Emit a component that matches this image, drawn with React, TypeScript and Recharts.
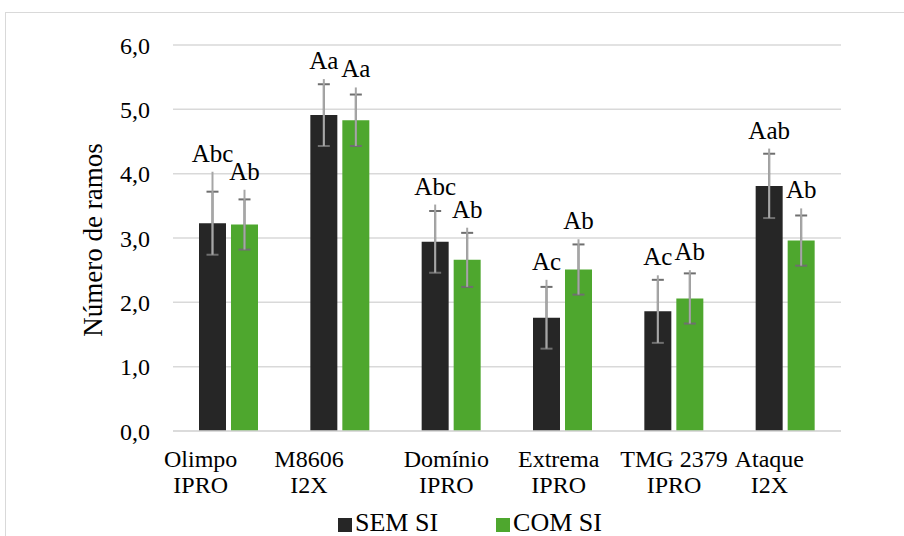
import { BarChart, Bar, XAxis, YAxis, CartesianGrid, ErrorBar, LabelList, Legend } from 'recharts'

const cultivars = ['Olimpo', 'M8606', 'Domínio', 'Extrema', 'TMG 2379', 'Ataque']
const technology = ['IPRO', 'I2X', 'IPRO', 'IPRO', 'IPRO', 'I2X']

const semValues = [3.23, 4.91, 2.94, 1.76, 1.86, 3.81]
const comValues = [3.21, 4.83, 2.66, 2.51, 2.06, 2.96]
const semError = [0.49, 0.48, 0.48, 0.48, 0.49, 0.5]
const comError = [0.39, 0.4, 0.42, 0.39, 0.39, 0.39]
// top of the whisker line (it runs past the cap in the original)
const semTop = [4.03, 5.47, 3.52, 2.35, 2.42, 4.39]
const comTop = [3.75, 5.34, 3.16, 2.98, 2.5, 3.46]
const semLetters = ['Abc', 'Aa', 'Abc', 'Ac', 'Ac', 'Aab']
const comLetters = ['Ab', 'Aa', 'Ab', 'Ab', 'Ab', 'Ab']
const yTicks = [0, 1, 2, 3, 4, 5, 6]
const seriesOrder = ['sem', 'com']

// category labels sit a little off their bar pairs in the original
const labelShift = [-28, -31, -5, -4, 0, -16]

const FONT = "'Liberation Serif', Tinos, 'Times New Roman', 'DejaVu Serif', serif"
const SEM_COLOR = '#262626'
const COM_COLOR = '#4EA72E'

const data = cultivars.map((name, i) => ({
  name,
  sem: semValues[i],
  com: comValues[i],
  semErr: semError[i],
  comErr: comError[i],
  semWhisker: [semError[i], semTop[i] - semValues[i]],
  comWhisker: [comError[i], comTop[i] - comValues[i]],
  semLetter: semLetters[i],
  comLetter: comLetters[i],
}))

function CultivarTick(props: any) {
  const { x, y, payload } = props
  const i = payload.index
  const cx = x + labelShift[i]
  return (
    <text x={cx} y={y} textAnchor="middle" style={{ fontFamily: FONT }} fontSize={24} fill="#000">
      <tspan x={cx} dy={28}>{cultivars[i]}</tspan>
      <tspan x={cx} dy={26}>{technology[i]}</tspan>
    </text>
  )
}

const letterLabel = (tops: number[], values: number[]) => (props: any) => {
  const { x, y, width, height, value, index } = props
  const perUnit = Number(height) / values[index]
  const top = Number(y) - (tops[index] - values[index]) * perUnit
  return (
    <text x={Number(x) + Number(width) / 2} y={top - 10} textAnchor="middle" style={{ fontFamily: FONT }} fontSize={25} fill="#000">
      {value}
    </text>
  )
}

function LegendContent(props: any) {
  const payload = [...(props.payload || [])].sort(
    (a: any, b: any) => seriesOrder.indexOf(a.dataKey) - seriesOrder.indexOf(b.dataKey),
  )
  return (
    <div style={{ display: 'flex', justifyContent: 'center', gap: 58, paddingLeft: 36, height: 30, fontFamily: FONT, fontSize: 26, color: '#000' }}>
      {payload.map((p: any) => (
        <div key={p.value} style={{ display: 'flex', alignItems: 'flex-end', height: 30 }}>
          <span style={{ display: 'inline-block', width: 14, height: 14, background: p.color, marginRight: 3, marginBottom: 4 }} />
          <span style={{ lineHeight: '26px' }}>{p.value}</span>
        </div>
      ))}
    </div>
  )
}

export default function App() {
  return (
    <div style={{ position: 'absolute', left: 0, top: 0, width: 904, height: 536, overflow: 'hidden', background: '#fff', fontFamily: FONT }}>
      <div style={{ position: 'absolute', left: 5, top: 12, width: 1000, height: 600, border: '1px solid #d9d9d9' }} />
      <BarChart
        width={904}
        height={536}
        data={data}
        margin={{ top: 45, right: 63, left: 100, bottom: 0 }}
        barGap={5}
        barCategoryGap={26}
        style={{ position: 'absolute', left: 0, top: 0, fontFamily: FONT }}
      >
        <CartesianGrid vertical={false} stroke="#d9d9d9" strokeWidth={1.5} />
        <XAxis
          dataKey="name"
          height={75}
          interval={0}
          tickLine={false}
          axisLine={{ stroke: '#d9d9d9', strokeWidth: 1.5 }}
          tick={<CultivarTick />}
        />
        <YAxis
          width={73}
          domain={[0, 6]}
          ticks={yTicks}
          interval={0}
          tickLine={false}
          axisLine={false}
          tickMargin={17}
          tick={{ style: { fontFamily: FONT }, fontSize: 24, fill: '#000' }}
          tickFormatter={(v: number) => v.toFixed(1).replace('.', ',')}
          label={{
            content: (p: any) => {
              const cx = p.viewBox.x - 7
              const cy = p.viewBox.y + p.viewBox.height / 2 + 2
              return (
                <text x={cx} y={cy} dy="0.35em" transform={`rotate(-90, ${cx}, ${cy})`} textAnchor="middle" style={{ fontFamily: FONT }} fontSize={27} fill="#000">
                  Número de ramos
                </text>
              )
            },
          }}
        />
        <Legend verticalAlign="bottom" content={<LegendContent />} wrapperStyle={{ left: 0, width: 904 }} />
        <Bar dataKey="sem" name="SEM SI" fill={SEM_COLOR} isAnimationActive={false}>
          <ErrorBar dataKey="semErr" width={6} stroke="#6f6f6f" strokeWidth={2} />
          <ErrorBar dataKey="semWhisker" width={0} stroke="#a6a6a6" strokeWidth={2} />
          <LabelList dataKey="semLetter" content={letterLabel(semTop, semValues)} />
        </Bar>
        <Bar dataKey="com" name="COM SI" fill={COM_COLOR} isAnimationActive={false}>
          <ErrorBar dataKey="comErr" width={6} stroke="#6f6f6f" strokeWidth={2} />
          <ErrorBar dataKey="comWhisker" width={0} stroke="#a6a6a6" strokeWidth={2} />
          <LabelList dataKey="comLetter" content={letterLabel(comTop, comValues)} />
        </Bar>
      </BarChart>
    </div>
  )
}
